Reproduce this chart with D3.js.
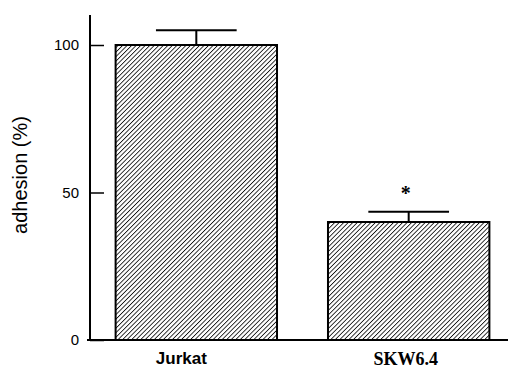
<!DOCTYPE html>
<html>
<head>
<meta charset="utf-8">
<script src="https://cdn.jsdelivr.net/npm/d3@7"></script>
<style>
  body { margin: 0; background: white; }
</style>
</head>
<body>
<svg id="viz"></svg>
<script>
const categories = ["Jurkat", "SKW6.4"];
const adhesion = [100, 40];
const errors = [5, 3.5];
const significant = [false, true];
const yTicks = [0, 50, 100];

const width = 508, height = 369;
const margin = { top: 15, right: 0, bottom: 29, left: 90 };

const svg = d3.select("#viz")
    .attr("width", width)
    .attr("height", height)
    .attr("viewBox", [0, 0, width, height])
    .style("background", "white");

// diagonal hatching
const defs = svg.append("defs");
const pat = defs.append("pattern")
    .attr("id", "hatch")
    .attr("patternUnits", "userSpaceOnUse")
    .attr("width", 3.2)
    .attr("height", 3.2)
    .attr("patternTransform", "rotate(45)");
pat.append("rect").attr("width", 3.2).attr("height", 3.2).attr("fill", "white");
pat.append("line")
    .attr("x1", 0).attr("y1", 0).attr("x2", 0).attr("y2", 3.2)
    .attr("stroke", "#111").attr("stroke-width", 1.7);

const y = d3.scaleLinear()
    .domain([0, 100])
    .range([340, 45]);

const x = d3.scaleBand()
    .domain(categories)
    .range([88, 517])
    .paddingInner(0.24)
    .paddingOuter(0.13);

const data = categories.map((c, i) => ({ cat: c, v: adhesion[i], e: errors[i], sig: significant[i] }));

// bars
svg.selectAll(".bar")
  .data(data)
  .join("rect")
    .attr("class", "bar")
    .attr("x", d => x(d.cat))
    .attr("y", d => y(d.v))
    .attr("width", x.bandwidth())
    .attr("height", d => y(0) - y(d.v))
    .attr("fill", "url(#hatch)")
    .attr("stroke", "#000")
    .attr("stroke-width", 2);

// error bars
const capHalf = x.bandwidth() / 4;
svg.selectAll(".stem")
  .data(data)
  .join("line")
    .attr("class", "stem")
    .attr("x1", d => x(d.cat) + x.bandwidth() / 2)
    .attr("x2", d => x(d.cat) + x.bandwidth() / 2)
    .attr("y1", d => y(d.v))
    .attr("y2", d => y(d.v + d.e))
    .attr("stroke", "#000")
    .attr("stroke-width", 2);

svg.selectAll(".cap")
  .data(data)
  .join("line")
    .attr("class", "cap")
    .attr("x1", d => x(d.cat) + x.bandwidth() / 2 - capHalf)
    .attr("x2", d => x(d.cat) + x.bandwidth() / 2 + capHalf)
    .attr("y1", d => y(d.v + d.e))
    .attr("y2", d => y(d.v + d.e))
    .attr("stroke", "#000")
    .attr("stroke-width", 2);

svg.selectAll(".star")
  .data(data.filter(d => d.sig))
  .join("text")
    .attr("class", "star")
    .attr("x", d => x(d.cat) + x.bandwidth() / 2 - 3)
    .attr("y", d => y(d.v + d.e) - 26)
    .attr("dy", "0.7em")
    .attr("text-anchor", "middle")
    .style("font", "bold 20px 'Liberation Serif'")
    .text("*");

// y axis
svg.append("g")
    .attr("transform", `translate(${margin.left},0)`)
    .call(d3.axisLeft(y).tickValues(yTicks).tickSizeInner(-14).tickSizeOuter(0).tickPadding(11))
    .call(g => {
      g.select(".domain").attr("d", `M0,${margin.top}V${y(0)}`).attr("stroke-width", 2);
      g.selectAll(".tick line").attr("stroke-width", 1.5);
      g.selectAll(".tick text").style("font", "15px 'Liberation Sans'").attr("fill", "#000");
    });

// x axis
svg.append("g")
    .attr("transform", `translate(0,${y(0)})`)
    .call(d3.axisBottom(x).tickSize(0).tickPadding(12))
    .call(g => {
      g.select(".domain").attr("d", `M87,0H${width}`).attr("stroke-width", 2);
      g.selectAll(".tick text")
        .attr("fill", "#000")
        .style("font", (d, i) => i === 0 ? "bold 17px 'Liberation Sans'" : "bold 18px 'Liberation Serif'")
        .attr("transform", (d, i) => i === 0 ? "translate(-15,0)" : "translate(-3,0)");
    });

svg.append("text")
    .attr("transform", `translate(27,175) rotate(-90)`)
    .attr("text-anchor", "middle")
    .style("font", "20px 'Liberation Sans'")
    .text("adhesion (%)");
</script>
</body>
</html>
